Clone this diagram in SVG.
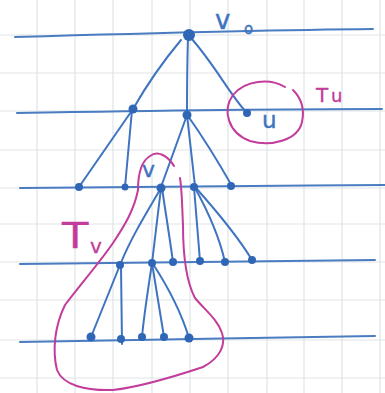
<svg xmlns="http://www.w3.org/2000/svg" width="385" height="393" viewBox="0 0 385 393">
<style>
.grid{stroke:#dfe4e7;stroke-width:1.2;fill:none}
.lvl{stroke:#4a7cc2;stroke-width:2;fill:none;stroke-linecap:round}
.edge{stroke:#3f74c0;stroke-width:2;fill:none;stroke-linecap:round}
.dot{fill:#2f66b6}
.blue{fill:#3f74c0;stroke:#3f74c0;stroke-width:0.4;font-family:"DejaVu Sans",sans-serif}
.pink{stroke:#c23c9c;stroke-width:2;fill:none;stroke-linecap:round}
.pt{fill:#c23c9c;stroke:#c23c9c;stroke-width:0.3;font-family:"DejaVu Sans",sans-serif}
</style>
<rect width="385" height="393" fill="#ffffff"/>
<g id="grid">
<path class="grid" d="M37 0V393M75 0V393M113 0V393M152 0V393M190 0V393M228 0V393M267 0V393M304 0V393M342 0V393M380 0V393"/>
<path class="grid" d="M0 35H385M0 73H385M0 111H385M0 150H385M0 188H385M0 224H385M0 262H385M0 300H385M0 340H385M0 378H385"/>
</g>
<g id="levels">
<path class="lvl" d="M15 37 C120 34 260 30 373 29"/>
<path class="lvl" d="M17 113 C130 111 260 109 382 109"/>
<path class="lvl" d="M20 188 C130 187 260 186 385 185"/>
<path class="lvl" d="M20 264 C130 263 260 261 375 260"/>
<path class="lvl" d="M20 342 C130 340 260 338 375 336"/>
</g>
<g id="connectors">
<path class="edge" d="M181 40 C160 65 145 88 133 109"/>
<path class="edge" d="M188 36 C187 70 187 95 187 115"/>
<path class="edge" d="M191 38 C215 65 230 95 247 113"/>
<path class="edge" d="M133 109 L79 187"/>
<path class="edge" d="M132 110 L125 187"/>
<path class="edge" d="M187 115 L161 187"/>
<path class="edge" d="M187 115 L195 186"/>
<path class="edge" d="M188 116 C205 140 220 165 232 186"/>
<path class="edge" d="M161 188 C145 215 130 240 120 265"/>
<path class="edge" d="M161 188 L152 263"/>
<path class="edge" d="M162 188 C166 215 170 240 173 262"/>
<path class="edge" d="M194 187 L200 261"/>
<path class="edge" d="M195 188 C210 215 220 240 225 262"/>
<path class="edge" d="M196 188 C220 215 240 240 252 260"/>
<path class="edge" d="M120 265 L91 337"/>
<path class="edge" d="M121 266 L122 344"/>
<path class="edge" d="M152 263 C148 290 144 315 142 337"/>
<path class="edge" d="M152 263 L164 337"/>
<path class="edge" d="M153 264 C170 290 182 315 189 338"/>
</g>
<g id="v0"><circle class="dot" cx="189" cy="35" r="6"/><text class="blue" x="215" y="29" font-size="26">v</text><text class="blue" x="244" y="34" font-size="15">o</text></g>
<g id="n1a"><circle class="dot" cx="133" cy="109" r="4.5"/></g>
<g id="n1b"><circle class="dot" cx="187" cy="115" r="4.5"/></g>
<g id="u"><circle class="dot" cx="247" cy="113" r="4"/><text class="blue" x="262" y="128" font-size="23">u</text></g>
<g id="n2a"><circle class="dot" cx="79" cy="187" r="4"/></g>
<g id="n2b"><circle class="dot" cx="125" cy="187" r="3.5"/></g>
<g id="v"><circle class="dot" cx="161" cy="188" r="4.5"/><text class="blue" x="142" y="177" font-size="22">v</text></g>
<g id="n2d"><circle class="dot" cx="194" cy="187" r="4"/></g>
<g id="n2e"><circle class="dot" cx="231" cy="186" r="4"/></g>
<g id="n3a"><circle class="dot" cx="120" cy="265" r="4"/></g>
<g id="n3b"><circle class="dot" cx="152" cy="263" r="4"/></g>
<g id="n3c"><circle class="dot" cx="173" cy="262" r="4"/></g>
<g id="n3d"><circle class="dot" cx="200" cy="261" r="4"/></g>
<g id="n3e"><circle class="dot" cx="225" cy="262" r="4"/></g>
<g id="n3f"><circle class="dot" cx="252" cy="260" r="4"/></g>
<g id="n4a"><circle class="dot" cx="91" cy="337" r="4.5"/></g>
<g id="n4b"><circle class="dot" cx="121" cy="339" r="4"/></g>
<g id="n4c"><circle class="dot" cx="142" cy="337" r="4"/></g>
<g id="n4d"><circle class="dot" cx="164" cy="337" r="4"/></g>
<g id="n4e"><circle class="dot" cx="189" cy="338" r="4.5"/></g>
<g id="Tu">
<path class="pink" d="M285 87 C270 78 245 80 233 95 C222 110 228 133 250 141 C272 147 298 140 302 122 C305 108 300 97 293 90"/>
<text class="pt" x="316" y="102" font-size="20">T</text><text class="pt" x="331" y="102" font-size="18">u</text>
</g>
<g id="Tv">
<path class="pink" d="M174 166 C168 156 158 150 150 156 C140 162 138 178 138 190 C134 210 125 225 113 243 C100 262 80 285 65 305 C55 325 52 350 57 370 C63 385 85 391 113 390 C140 387 170 378 203 367 C220 358 226 345 222 333 C218 320 205 310 195 298 C187 283 183 260 183 225 C182 205 182 190 180 178"/>
<text class="pt" transform="translate(62 248) scale(1.2 1)" x="0" y="0" font-size="36">T</text><text class="pt" x="90" y="253" font-size="20">v</text>
</g>
</svg>
